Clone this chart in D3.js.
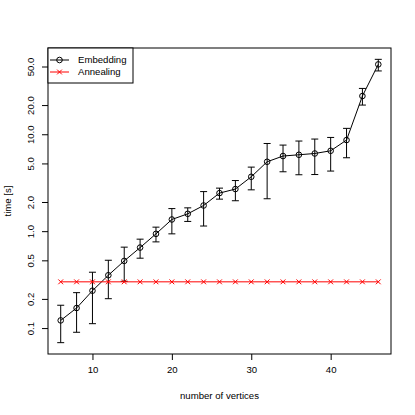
<!DOCTYPE html>
<html>
<head>
<meta charset="utf-8">
<script src="https://cdn.jsdelivr.net/npm/d3@7"></script>
<style>
  body { margin: 0; background: #fff; }
  text { font-family: "Liberation Sans", Arial, sans-serif; font-size: 9.6px; fill: #000; }
</style>
</head>
<body>
<script>
// number of vertices
var vertices = [6, 8, 10, 12, 14, 16, 18, 20, 22, 24, 26, 28, 30, 32, 34, 36, 38, 40, 42, 44, 46];
// embedding: mean time and error bar ends
var embedding = [0.120, 0.161, 0.243, 0.351, 0.493, 0.677, 0.938, 1.32, 1.51, 1.84, 2.47, 2.72, 3.64, 5.20, 5.96, 6.14, 6.33, 6.75, 8.71, 24.8, 52.6];
var embeddingLow = [0.0707, 0.0905, 0.111, 0.201, 0.304, 0.526, 0.775, 0.938, 1.26, 1.13, 2.14, 2.06, 2.67, 2.16, 4.10, 3.82, 3.84, 4.17, 5.72, 20.0, 45.0];
var embeddingHigh = [0.172, 0.232, 0.377, 0.501, 0.684, 0.827, 1.10, 1.71, 1.74, 2.56, 2.78, 3.33, 4.58, 8.03, 7.73, 8.51, 8.92, 9.27, 11.5, 29.7, 59.3];
// annealing time
var annealing = [0.3, 0.3, 0.3, 0.3, 0.3, 0.3, 0.3, 0.3, 0.3, 0.3, 0.3, 0.3, 0.3, 0.3, 0.3, 0.3, 0.3, 0.3, 0.3, 0.3, 0.3];

var xTicks = [10, 20, 30, 40];
var yTicks = [0.1, 0.2, 0.5, 1, 2, 5, 10, 20, 50];
var legendLabels = ["Embedding", "Annealing"];

var width = 415, height = 415;
var margin = {left: 48, right: 24, top: 48, bottom: 61};
var cross = "M-2.4,-2.4L2.4,2.4M-2.4,2.4L2.4,-2.4";

var svg = d3.select("body").append("svg")
    .attr("width", width)
    .attr("height", height);
svg.append("rect").attr("width", width).attr("height", height).attr("fill", "#fff");

// R style 4% padding on the ranges
var xmin = d3.min(vertices), xmax = d3.max(vertices);
var xpad = (xmax - xmin) * 0.04;
var x = d3.scaleLinear()
    .domain([xmin - xpad, xmax + xpad])
    .range([margin.left, width - margin.right]);

var lmin = Math.log10(d3.min(embeddingLow)), lmax = Math.log10(d3.max(embeddingHigh));
var lpad = (lmax - lmin) * 0.04;
var y = d3.scaleLog()
    .domain([Math.pow(10, lmin - lpad), Math.pow(10, lmax + lpad)])
    .range([height - margin.bottom, margin.top]);

// axes
var xAxis = d3.axisBottom(x).tickValues(xTicks).tickSize(6).tickPadding(6).tickFormat(d3.format("d"));
var gx = svg.append("g")
    .attr("transform", "translate(0," + (height - margin.bottom) + ")")
    .call(xAxis);
gx.select(".domain").remove();
gx.selectAll("text").style("font-size", "9.6px").attr("font-family", null);

var yAxis = d3.axisLeft(y).tickValues(yTicks).tickSize(6).tickFormat(d3.format(".1f"));
var gy = svg.append("g")
    .attr("transform", "translate(" + margin.left + ",0)")
    .call(yAxis);
gy.select(".domain").remove();
gy.selectAll("text")
    .attr("x", null).attr("dy", null)
    .attr("text-anchor", "middle")
    .attr("transform", "translate(-14,0) rotate(-90)")
    .style("font-size", "9.6px").attr("font-family", null);

// plot box
svg.append("rect")
    .attr("x", margin.left).attr("y", margin.top)
    .attr("width", width - margin.left - margin.right)
    .attr("height", height - margin.top - margin.bottom)
    .attr("fill", "none").attr("stroke", "#000").attr("stroke-width", 1);

// axis labels
svg.append("text")
    .attr("x", (margin.left + width - margin.right) / 2)
    .attr("y", 399)
    .attr("text-anchor", "middle")
    .text("number of vertices");
svg.append("text")
    .attr("transform", "translate(11," + ((margin.top + height - margin.bottom) / 2) + ") rotate(-90)")
    .attr("text-anchor", "middle")
    .text("time [s]");

var line = d3.line()
    .x(function(d, i) { return x(vertices[i]); })
    .y(function(d) { return y(d); });

// embedding error bars
var bars = svg.append("g").selectAll("g")
    .data(embedding)
    .enter().append("g")
    .attr("stroke", "#000").attr("stroke-width", 1);
bars.append("line")
    .attr("x1", function(d, i) { return x(vertices[i]); })
    .attr("x2", function(d, i) { return x(vertices[i]); })
    .attr("y1", function(d, i) { return y(embeddingLow[i]); })
    .attr("y2", function(d, i) { return y(embeddingHigh[i]); });
bars.append("line")
    .attr("x1", function(d, i) { return x(vertices[i]) - 3.5; })
    .attr("x2", function(d, i) { return x(vertices[i]) + 3.5; })
    .attr("y1", function(d, i) { return y(embeddingLow[i]); })
    .attr("y2", function(d, i) { return y(embeddingLow[i]); });
bars.append("line")
    .attr("x1", function(d, i) { return x(vertices[i]) - 3.5; })
    .attr("x2", function(d, i) { return x(vertices[i]) + 3.5; })
    .attr("y1", function(d, i) { return y(embeddingHigh[i]); })
    .attr("y2", function(d, i) { return y(embeddingHigh[i]); });

// embedding line and circles
svg.append("path")
    .attr("d", line(embedding))
    .attr("fill", "none").attr("stroke", "#000").attr("stroke-width", 1);
svg.append("g").selectAll("circle")
    .data(embedding)
    .enter().append("circle")
    .attr("cx", function(d, i) { return x(vertices[i]); })
    .attr("cy", function(d) { return y(d); })
    .attr("r", 2.8)
    .attr("fill", "none").attr("stroke", "#000").attr("stroke-width", 1);

// annealing (drawn on top)
svg.append("path")
    .attr("d", line(annealing))
    .attr("fill", "none").attr("stroke", "red").attr("stroke-width", 1);
svg.append("g").selectAll("path")
    .data(annealing)
    .enter().append("path")
    .attr("transform", function(d, i) { return "translate(" + x(vertices[i]) + "," + y(d) + ")"; })
    .attr("d", cross)
    .attr("stroke", "red").attr("stroke-width", 1);

// legend
var legend = svg.append("g");
legend.append("rect")
    .attr("x", margin.left).attr("y", margin.top)
    .attr("width", 85).attr("height", 35)
    .attr("fill", "#fff").attr("stroke", "#000").attr("stroke-width", 1);
var colors = ["#000", "red"];
legendLabels.forEach(function(lab, i) {
  var ly = margin.top + 12 + i * 12;
  legend.append("line")
      .attr("x1", margin.left + 2).attr("x2", margin.left + 21)
      .attr("y1", ly).attr("y2", ly)
      .attr("stroke", colors[i]).attr("stroke-width", 1);
  if (i === 0) {
    legend.append("circle")
        .attr("cx", margin.left + 11.5).attr("cy", ly).attr("r", 2.8)
        .attr("fill", "none").attr("stroke", "#000");
  } else {
    legend.append("path")
        .attr("transform", "translate(" + (margin.left + 11.5) + "," + ly + ")")
        .attr("d", cross)
        .attr("stroke", "red");
  }
  legend.append("text")
      .attr("x", margin.left + 30).attr("y", ly)
      .attr("dy", "0.35em")
      .text(lab);
});
</script>
</body>
</html>
